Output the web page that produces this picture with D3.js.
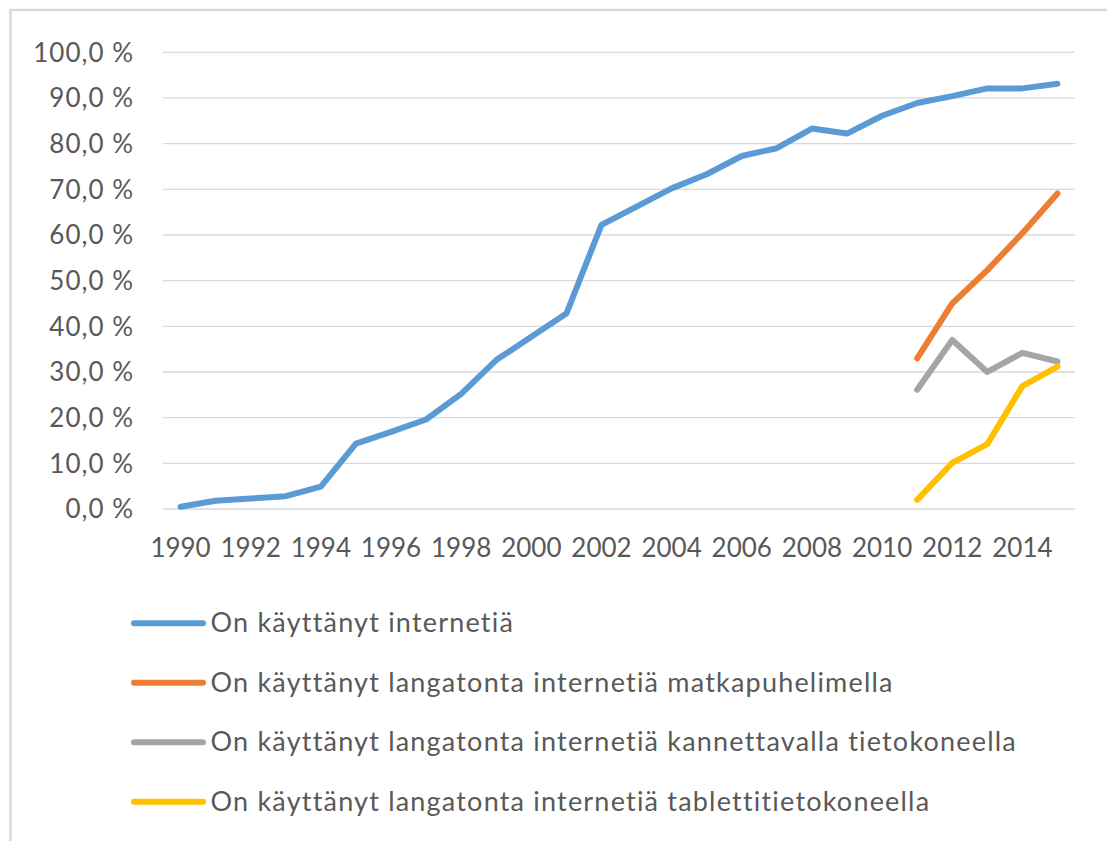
<!DOCTYPE html>
<html>
<head>
<meta charset="utf-8">
<script src="https://cdn.jsdelivr.net/npm/d3@7"></script>
<style>
  html, body { margin: 0; padding: 0; background: #ffffff; }
  svg text { font-family: Lato, "Open Sans", sans-serif; fill: #595959; }
</style>
</head>
<body>
<svg id="chart" width="1107" height="841"></svg>
<script>
// ---- data ----
const years = [1990,1991,1992,1993,1994,1995,1996,1997,1998,1999,2000,2001,2002,2003,2004,2005,2006,2007,2008,2009,2010,2011,2012,2013,2014,2015];
const xTickYears = [1990,1992,1994,1996,1998,2000,2002,2004,2006,2008,2010,2012,2014];
const yTickValues = [0,10,20,30,40,50,60,70,80,90,100];
const yTickLabels = ["0,0 %","10,0 %","20,0 %","30,0 %","40,0 %","50,0 %","60,0 %","70,0 %","80,0 %","90,0 %","100,0 %"];

const internetAll = [0.5,1.8,2.3,2.8,4.9,14.3,16.9,19.6,25.2,32.6,37.7,42.8,62.2,66.2,70.2,73.3,77.3,79.0,83.3,82.2,86.1,88.9,90.4,92.1,92.1,93.1];
const mobileYears = [2011,2012,2013,2014,2015];
const mobilePhone = [33.0,45.0,52.3,60.4,69.1];
const laptop = [26.1,37.0,30.0,34.2,32.3];
const tablet = [2.0,10.1,14.2,26.9,31.2];

const seriesNames = [
  "On käyttänyt internetiä",
  "On käyttänyt langatonta internetiä matkapuhelimella",
  "On käyttänyt langatonta internetiä kannettavalla tietokoneella",
  "On käyttänyt langatonta internetiä tablettitietokoneella"
];
const seriesColors = ["#5B9BD5","#ED7D31","#A5A5A5","#FFC000"];

const series = [
  { name: seriesNames[0], color: seriesColors[0], pts: years.map((y,i)=>({year:y, v:internetAll[i]})) },
  { name: seriesNames[1], color: seriesColors[1], pts: mobileYears.map((y,i)=>({year:y, v:mobilePhone[i]})) },
  { name: seriesNames[2], color: seriesColors[2], pts: mobileYears.map((y,i)=>({year:y, v:laptop[i]})) },
  { name: seriesNames[3], color: seriesColors[3], pts: mobileYears.map((y,i)=>({year:y, v:tablet[i]})) }
];

// ---- layout ----
const svg = d3.select("#chart");
const plot = { left: 163, right: 1075, top: 52.3, bottom: 509 };

// chart border (only top/left visible in reference)
svg.append("rect")
  .attr("x", 10.5).attr("y", 10)
  .attr("width", 1200).attr("height", 1000)
  .attr("fill", "none").attr("stroke", "#D9D9D9").attr("stroke-width", 2.5);

const x = d3.scaleBand().domain(years).range([plot.left, plot.right]).padding(0);
const xc = d => x(d) + x.bandwidth() / 2;
const y = d3.scaleLinear().domain([0, 100]).range([plot.bottom, plot.top]);

// gridlines
svg.append("g").selectAll("line").data(yTickValues).join("line")
  .attr("x1", plot.left).attr("x2", plot.right)
  .attr("y1", d => y(d)).attr("y2", d => y(d))
  .attr("stroke", "#D9D9D9").attr("stroke-width", 1.3);

// y axis
const yAxis = d3.axisLeft(y).tickValues(yTickValues)
  .tickFormat((d, i) => yTickLabels[i]).tickSize(0).tickPadding(0);
const gy = svg.append("g").attr("transform", "translate(134,0)").call(yAxis);
gy.select(".domain").remove();
gy.selectAll("text").attr("font-size", 26).attr("font-family", "Lato").attr("fill", "#595959")
  .attr("letter-spacing", 1).attr("dy", "0.34em");

// x axis
const xAxis = d3.axisBottom(x).tickValues(xTickYears).tickSize(0).tickPadding(0);
const gx = svg.append("g").attr("transform", "translate(0,548.5)").call(xAxis);
gx.select(".domain").remove();
gx.selectAll("text").attr("font-size", 26).attr("font-family", "Lato").attr("fill", "#595959").attr("dy", "0.34em");

// lines
const line = d3.line().x(d => xc(d.year)).y(d => y(d.v));
svg.append("g").selectAll("path").data(series).join("path")
  .attr("d", d => line(d.pts))
  .attr("fill", "none")
  .attr("stroke", d => d.color)
  .attr("stroke-width", 6)
  .attr("stroke-linejoin", "round")
  .attr("stroke-linecap", "round");

// legend
const legendY = d3.scaleLinear().domain([0, 3]).range([623.3, 801.7]);
const lg = svg.append("g").selectAll("g").data(series).join("g")
  .attr("transform", (d, i) => `translate(0,${legendY(i)})`);
lg.append("line").attr("x1", 134).attr("x2", 203).attr("y1", 0).attr("y2", 0)
  .attr("stroke", d => d.color).attr("stroke-width", 6).attr("stroke-linecap", "round");
lg.append("text").attr("x", 210.5).attr("y", 0).attr("dy", "0.34em")
  .attr("font-size", 27).attr("font-family", "Lato").attr("fill", "#595959")
  .attr("letter-spacing", 1.2)
  .text(d => d.name);
</script>
</body>
</html>
